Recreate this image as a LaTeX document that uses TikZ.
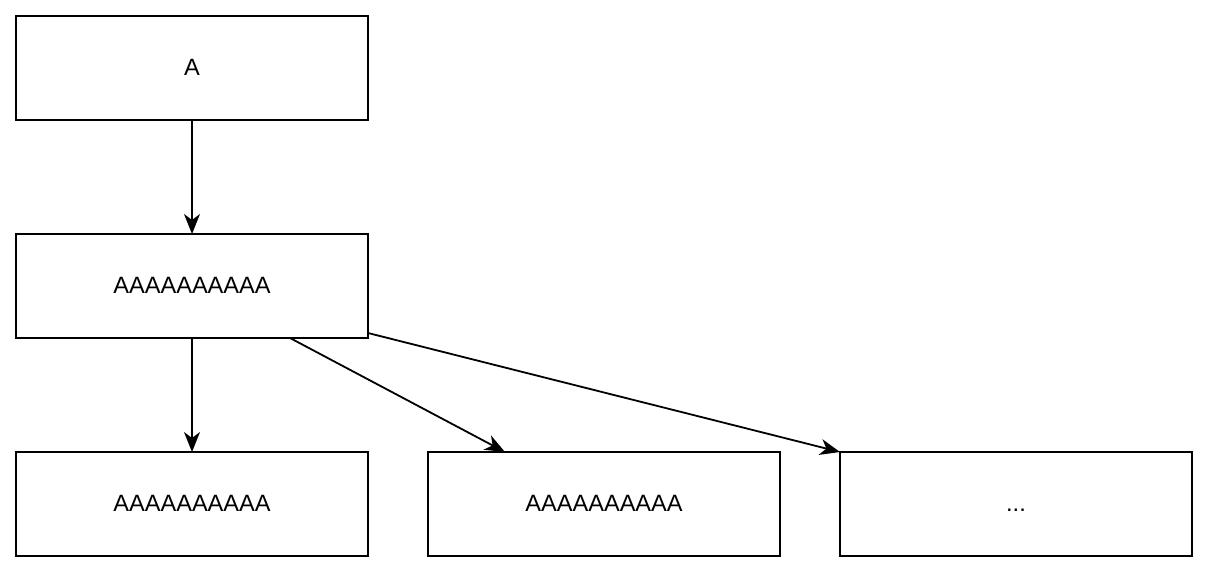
\documentclass[tikz,border=0pt]{standalone}
\usepackage{fontspec}
\setmainfont{Liberation Sans}
\usepackage{tikz}
\usetikzlibrary{arrows.meta}
\tikzstyle{boxnode}=[rectangle, draw, line width=0.9pt, outer sep=0pt, inner sep=0pt, minimum width=176pt, minimum height=52pt, text height=8.6pt, text depth=1.4pt, font=\fontsize{11.8}{14}\selectfont]
\tikzstyle{link}=[line width=0.9pt, -{Stealth[length=10pt,width=8pt,inset=3pt]}]
\newcommand{\boxnode}{\node[boxnode]}

\begin{document}
\begin{tikzpicture}[x=0.5pt, y=-0.5pt]
            \useasboundingbox (0,0) rectangle (1208,572);
            \boxnode (a) at (192,68) {A};
            \boxnode (b) at (192,286) {AAAAAAAAAA};
            \boxnode (c1) at (192,504) {AAAAAAAAAA};
            \boxnode (c2) at (604,504) {AAAAAAAAAA};
            \boxnode (c3) at (1016,504) {...};
            
            \draw[link] (a.south) -- (b.north);
            \draw[link] (b.south) -- (c1.north);
            \draw[link] ([xshift=49pt]b.south) -- ([xshift=-49.5pt]c2.north);
            \draw[link] ([yshift=2.5pt]b.south east) -- (c3.north west);
        \end{tikzpicture}
\end{document}
